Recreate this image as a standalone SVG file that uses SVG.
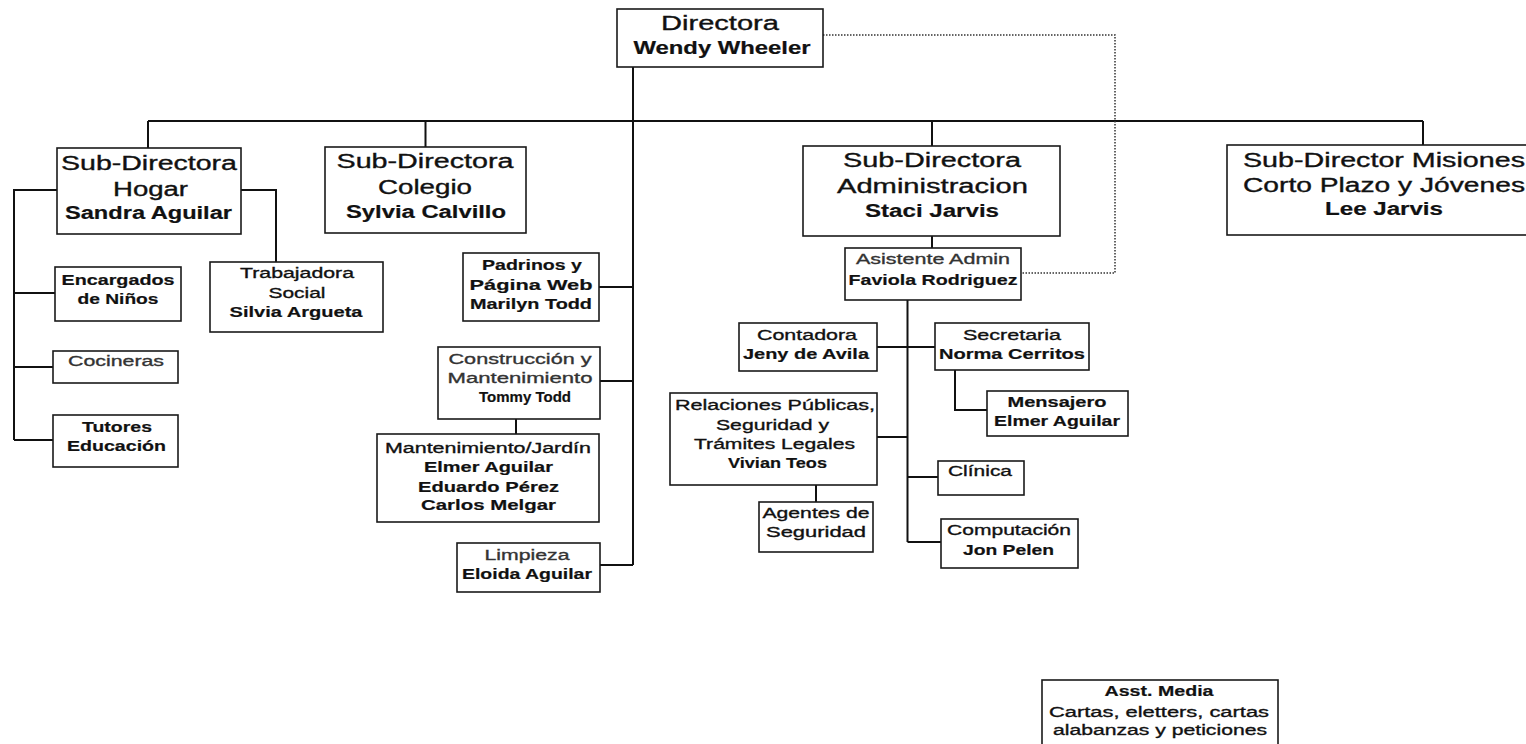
<svg xmlns="http://www.w3.org/2000/svg" width="1526" height="744" viewBox="0 0 1526 744">
<style>
text { font-family: "Liberation Sans", Arial, sans-serif; text-anchor: middle; fill: #111; stroke: #111; stroke-width: 0.35px; }
.b { font-weight: bold; stroke-width: 0.2px; }
.g { fill: #333; stroke: #333; }
.s20 { font-size: 20.5px; }
.s19 { font-size: 20px; }
.s17 { font-size: 18px; }
.s15 { font-size: 15.5px; }
.box { fill: #fff; stroke: #1a1a1a; stroke-width: 1.6; }
.ln { fill: none; stroke: #111; stroke-width: 2; }
.dot { fill: none; stroke: #333; stroke-width: 1.5; stroke-dasharray: 1.5 1.5; }
</style>
<rect width="1526" height="744" fill="#fff"/>
<g id="connectors">
<path class="ln" d="M633 67 V565"/>
<path class="ln" d="M148 121 H1423"/>
<path class="ln" d="M148 121 V148 M425.5 121 V147 M932 121 V146 M1423 121 V145"/>
<path class="ln" d="M932 236 V248"/>
<path class="ln" d="M907.5 300 V542"/>
<path class="ln" d="M57 190 H14 V440 M14 293 H55 M14 367 H53 M14 440 H53"/>
<path class="ln" d="M241 190 H276 V262"/>
<path class="ln" d="M599 287 H633 M600 381 H633 M600 565 H633"/>
<path class="ln" d="M516 419 V434"/>
<path class="ln" d="M877 347 H935"/>
<path class="ln" d="M955 370 V410 H987"/>
<path class="ln" d="M877 437 H907.5 M907.5 477 H938 M907.5 542 H941"/>
<path class="ln" d="M816 485 V502"/>
<path class="dot" d="M823 35 H1115 V273 H1021"/>
</g>
<g id="directora">
<rect class="box" x="617" y="9" width="206" height="58"/>
<text class="s20" x="720" y="30" textLength="118" lengthAdjust="spacingAndGlyphs">Directora</text>
<text class="s17 b" x="722" y="54" textLength="177" lengthAdjust="spacingAndGlyphs">Wendy Wheeler</text>
</g>
<g id="hogar">
<rect class="box" x="57" y="148" width="184" height="86"/>
<text class="s19" x="149" y="170" textLength="176" lengthAdjust="spacingAndGlyphs">Sub-Directora</text>
<text class="s19" x="150.5" y="196" textLength="75" lengthAdjust="spacingAndGlyphs">Hogar</text>
<text class="s17 b" x="148.5" y="219" textLength="167" lengthAdjust="spacingAndGlyphs">Sandra Aguilar</text>
</g>
<g id="colegio">
<rect class="box" x="325" y="147" width="201" height="86"/>
<text class="s19" x="425" y="168" textLength="177" lengthAdjust="spacingAndGlyphs">Sub-Directora</text>
<text class="s19" x="425" y="194" textLength="94" lengthAdjust="spacingAndGlyphs">Colegio</text>
<text class="s17 b" x="426" y="218" textLength="160" lengthAdjust="spacingAndGlyphs">Sylvia Calvillo</text>
</g>
<g id="administracion">
<rect class="box" x="803" y="146" width="257" height="90"/>
<text class="s19" x="932" y="167" textLength="178" lengthAdjust="spacingAndGlyphs">Sub-Directora</text>
<text class="s19" x="932.5" y="193" textLength="191" lengthAdjust="spacingAndGlyphs">Administracion</text>
<text class="s17 b" x="932" y="217" textLength="134" lengthAdjust="spacingAndGlyphs">Staci Jarvis</text>
</g>
<g id="misiones">
<rect class="box" x="1227" y="145" width="314" height="90"/>
<text class="s19" x="1384" y="167" textLength="282" lengthAdjust="spacingAndGlyphs">Sub-Director Misiones</text>
<text class="s19" x="1384" y="192" textLength="282" lengthAdjust="spacingAndGlyphs">Corto Plazo y Jóvenes</text>
<text class="s17 b" x="1384" y="215" textLength="118" lengthAdjust="spacingAndGlyphs">Lee Jarvis</text>
</g>
<g id="asistente">
<rect class="box" x="845" y="248" width="176" height="52"/>
<text class="s15 g" x="933" y="264" textLength="154" lengthAdjust="spacingAndGlyphs">Asistente Admin</text>
<text class="s15 b" x="933" y="285" textLength="169" lengthAdjust="spacingAndGlyphs">Faviola Rodriguez</text>
</g>
<g id="encargados">
<rect class="box" x="55" y="267" width="126" height="54"/>
<text class="s15 b" x="118" y="285" textLength="113" lengthAdjust="spacingAndGlyphs">Encargados</text>
<text class="s15 b" x="118" y="304" textLength="81" lengthAdjust="spacingAndGlyphs">de Niños</text>
</g>
<g id="cocineras">
<rect class="box" x="53" y="351" width="125" height="32"/>
<text class="s15 g" x="116" y="366" textLength="96" lengthAdjust="spacingAndGlyphs">Cocineras</text>
</g>
<g id="tutores">
<rect class="box" x="53" y="415" width="125" height="52"/>
<text class="s15 b" x="117" y="432" textLength="70" lengthAdjust="spacingAndGlyphs">Tutores</text>
<text class="s15 b" x="116.5" y="451" textLength="99" lengthAdjust="spacingAndGlyphs">Educación</text>
</g>
<g id="trabajadora">
<rect class="box" x="210" y="262" width="173" height="70"/>
<text class="s15" x="297" y="278" textLength="114" lengthAdjust="spacingAndGlyphs">Trabajadora</text>
<text class="s15" x="297" y="298" textLength="57" lengthAdjust="spacingAndGlyphs">Social</text>
<text class="s15 b" x="296" y="317" textLength="133" lengthAdjust="spacingAndGlyphs">Silvia Argueta</text>
</g>
<g id="padrinos">
<rect class="box" x="463" y="253" width="136" height="68"/>
<text class="s15 b" x="532" y="270" textLength="100" lengthAdjust="spacingAndGlyphs">Padrinos y</text>
<text class="s15 b" x="531" y="290" textLength="123" lengthAdjust="spacingAndGlyphs">Página Web</text>
<text class="s15 b" x="531" y="309" textLength="122" lengthAdjust="spacingAndGlyphs">Marilyn Todd</text>
</g>
<g id="construccion">
<rect class="box" x="438" y="347" width="162" height="72"/>
<text class="s15 g" x="520" y="364" textLength="143" lengthAdjust="spacingAndGlyphs">Construcción y</text>
<text class="s15 g" x="520" y="383" textLength="145" lengthAdjust="spacingAndGlyphs">Mantenimiento</text>
<text class="s15 b" x="525" y="402" textLength="92" lengthAdjust="spacingAndGlyphs">Tommy Todd</text>
</g>
<g id="jardin">
<rect class="box" x="377" y="434" width="222" height="88"/>
<text class="s15" x="488" y="453" textLength="206" lengthAdjust="spacingAndGlyphs">Mantenimiento/Jardín</text>
<text class="s15 b" x="488.5" y="472" textLength="129" lengthAdjust="spacingAndGlyphs">Elmer Aguilar</text>
<text class="s15 b" x="488.5" y="492" textLength="141" lengthAdjust="spacingAndGlyphs">Eduardo Pérez</text>
<text class="s15 b" x="488.5" y="510" textLength="135" lengthAdjust="spacingAndGlyphs">Carlos Melgar</text>
</g>
<g id="limpieza">
<rect class="box" x="457" y="543" width="143" height="49"/>
<text class="s15 g" x="527" y="560" textLength="85" lengthAdjust="spacingAndGlyphs">Limpieza</text>
<text class="s15 b" x="527" y="579" textLength="130" lengthAdjust="spacingAndGlyphs">Eloida Aguilar</text>
</g>
<g id="contadora">
<rect class="box" x="739" y="323" width="138" height="48"/>
<text class="s15" x="807" y="340" textLength="100" lengthAdjust="spacingAndGlyphs">Contadora</text>
<text class="s15 b" x="806" y="359" textLength="126" lengthAdjust="spacingAndGlyphs">Jeny de Avila</text>
</g>
<g id="secretaria">
<rect class="box" x="935" y="323" width="154" height="47"/>
<text class="s15" x="1012" y="340" textLength="98" lengthAdjust="spacingAndGlyphs">Secretaria</text>
<text class="s15 b" x="1012" y="359" textLength="146" lengthAdjust="spacingAndGlyphs">Norma Cerritos</text>
</g>
<g id="mensajero">
<rect class="box" x="987" y="391" width="141" height="45"/>
<text class="s15 b" x="1057" y="407" textLength="99" lengthAdjust="spacingAndGlyphs">Mensajero</text>
<text class="s15 b" x="1057" y="426" textLength="126" lengthAdjust="spacingAndGlyphs">Elmer Aguilar</text>
</g>
<g id="relaciones">
<rect class="box" x="670" y="393" width="207" height="92"/>
<text class="s15" x="775" y="410" textLength="200" lengthAdjust="spacingAndGlyphs">Relaciones Públicas,</text>
<text class="s15" x="772.5" y="430" textLength="113" lengthAdjust="spacingAndGlyphs">Seguridad y</text>
<text class="s15" x="774.5" y="449" textLength="161" lengthAdjust="spacingAndGlyphs">Trámites Legales</text>
<text class="s15 b" x="777.5" y="468" textLength="99" lengthAdjust="spacingAndGlyphs">Vivian Teos</text>
</g>
<g id="agentes">
<rect class="box" x="759" y="502" width="114" height="50"/>
<text class="s15" x="816" y="518" textLength="107" lengthAdjust="spacingAndGlyphs">Agentes de</text>
<text class="s15" x="816" y="537" textLength="100" lengthAdjust="spacingAndGlyphs">Seguridad</text>
</g>
<g id="clinica">
<rect class="box" x="938" y="461" width="86" height="34"/>
<text class="s15" x="980" y="476" textLength="64" lengthAdjust="spacingAndGlyphs">Clínica</text>
</g>
<g id="computacion">
<rect class="box" x="941" y="519" width="137" height="49"/>
<text class="s15" x="1009" y="535" textLength="124" lengthAdjust="spacingAndGlyphs">Computación</text>
<text class="s15 b" x="1008.5" y="555" textLength="91" lengthAdjust="spacingAndGlyphs">Jon Pelen</text>
</g>
<g id="media">
<rect class="box" x="1042" y="680" width="236" height="80"/>
<text class="s15 b" x="1159" y="696" textLength="109" lengthAdjust="spacingAndGlyphs">Asst. Media</text>
<text class="s15" x="1159" y="717" textLength="220" lengthAdjust="spacingAndGlyphs">Cartas, eletters, cartas</text>
<text class="s15" x="1160" y="735" textLength="214" lengthAdjust="spacingAndGlyphs">alabanzas y peticiones</text>
</g>
</svg>
